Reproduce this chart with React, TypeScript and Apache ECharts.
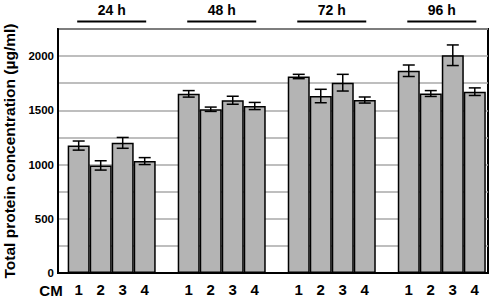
import React, { useEffect, useRef } from "react";
import * as echarts from "echarts";

const groups = ["24 h", "48 h", "72 h", "96 h"];
const cmLabels = ["1", "2", "3", "4"];
const means = [
  [1175, 992, 1200, 1032],
  [1652, 1510, 1593, 1540],
  [1812, 1632, 1755, 1595],
  [1865, 1655, 2008, 1672],
];
const errors = [
  [42, 43, 50, 32],
  [30, 20, 37, 33],
  [20, 62, 77, 28],
  [53, 27, 95, 35],
];
const yTicks = [0, 500, 1000, 1500, 2000];

const FONT = "Liberation Sans";

export default function App() {
  const ref = useRef<HTMLDivElement>(null);
  useEffect(() => {
    document.body.style.margin = "0";
    const chart = echarts.init(ref.current!, null, { renderer: "svg" });
    const slot = cmLabels.length + 1;
    const barData: any[] = [];
    const errData: any[] = [];
    const xPositions: number[] = [];
    groups.forEach((g, gi) => {
      cmLabels.forEach((c, i) => {
        const x = gi * slot + i;
        xPositions.push(x);
        barData.push([x, means[gi][i]]);
        errData.push([x, means[gi][i], errors[gi][i]]);
      });
    });
    const headerData = groups.map((g, gi) => [gi * slot + (cmLabels.length - 1) / 2, gi]);

    chart.setOption({
      animation: false,
      grid: {
        left: 58,
        right: 10,
        top: 29,
        bottom: 24,
        containLabel: false,
        outerBoundsMode: "none",
        show: true,
        borderColor: "#000",
        borderWidth: 2,
        backgroundColor: "transparent",
      },
      xAxis: {
        type: "value",
        min: -0.94,
        max: 18.6,
        splitLine: { show: false },
        axisLine: { show: true, onZero: false, lineStyle: { color: "#000", width: 2 } },
        axisTick: { show: false },
        axisLabel: {
          customValues: xPositions,
          formatter: (v: number) => {
            const idx = xPositions.indexOf(Math.round(v));
            return idx >= 0 ? cmLabels[idx % cmLabels.length] : "";
          },
          color: "#000",
          fontFamily: FONT,
          fontSize: 15,
          fontWeight: "bold",
          margin: 9,
        },
      },
      yAxis: {
        type: "value",
        min: 0,
        max: 2250,
        interval: 250,
        name: "Total protein concentration (µg/ml)",
        nameLocation: "middle",
        nameRotate: 90,
        nameGap: 40,
        nameTextStyle: { color: "#000", fontFamily: FONT, fontSize: 15.5, fontWeight: "bold" },
        axisLine: { show: true, onZero: false, lineStyle: { color: "#000", width: 2 } },
        axisTick: { show: false },
        splitLine: { lineStyle: { color: "#a8a8a8", width: 1.5 } },
        axisLabel: {
          formatter: (v: number) => (yTicks.indexOf(v) >= 0 ? String(v) : ""),
          color: "#000",
          fontFamily: FONT,
          fontSize: 11.5,
          fontWeight: "bold",
          margin: 4,
        },
      },
      graphic: [
        {
          type: "text",
          x: 51,
          y: 290,
          style: {
            text: "CM",
            fill: "#000",
            font: `bold 15px ${FONT}`,
            align: "center",
            verticalAlign: "middle",
          },
        },
      ],
      series: [
        {
          type: "bar",
          data: barData,
          barWidth: 22,
          itemStyle: { color: "#b4b4b4", borderColor: "#000", borderWidth: 1.5 },
          z: 2,
        },
        {
          type: "custom",
          data: errData,
          z: 3,
          renderItem: (params: any, api: any) => {
            const x = api.value(0);
            const m = api.value(1);
            const e = api.value(2);
            const top = api.coord([x, m + e]);
            const bot = api.coord([x, m - e]);
            const hw = 6;
            const style = { stroke: "#000", lineWidth: 1.5 };
            return {
              type: "group",
              children: [
                { type: "line", shape: { x1: top[0], y1: top[1], x2: bot[0], y2: bot[1] }, style },
                { type: "line", shape: { x1: top[0] - hw, y1: top[1], x2: top[0] + hw, y2: top[1] }, style },
                { type: "line", shape: { x1: bot[0] - hw, y1: bot[1], x2: bot[0] + hw, y2: bot[1] }, style },
              ],
            };
          },
        },
        {
          type: "custom",
          data: headerData,
          clip: false,
          z: 3,
          renderItem: (params: any, api: any) => {
            const cx = api.coord([api.value(0), 0])[0];
            const topY = params.coordSys.y;
            const gi = api.value(1);
            return {
              type: "group",
              children: [
                {
                  type: "line",
                  shape: { x1: cx - 34.5, y1: topY - 7.5, x2: cx + 34.5, y2: topY - 7.5 },
                  style: { stroke: "#000", lineWidth: 2.2 },
                },
                {
                  type: "text",
                  x: cx,
                  y: topY - 19.5,
                  style: {
                    text: groups[gi],
                    fill: "#000",
                    font: `bold 14px ${FONT}`,
                    align: "center",
                    verticalAlign: "middle",
                  },
                },
              ],
            };
          },
        },
      ],
    });
    return () => chart.dispose();
  }, []);
  return <div ref={ref} style={{ width: 498, height: 297 }} />;
}
